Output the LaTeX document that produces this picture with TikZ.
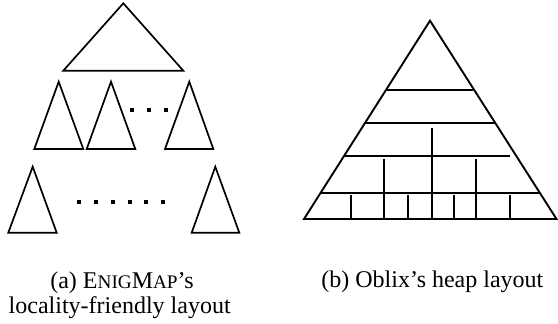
\documentclass[tikz,border=0pt]{standalone}
\usepackage{fontspec}
\setmainfont{Liberation Serif}
\newcommand{\fakesc}[1]{{\fontsize{19.2}{20}\selectfont #1}}
\begin{document}
\begin{tikzpicture}[x=1pt,y=-1pt,
  tri/.style={draw=black,line width=1.7pt,line join=miter},
  bigtri/.style={draw=black,line width=1.9pt,line join=miter},
  rule/.style={draw=black,line width=1.8pt},
  dot/.style={fill=black,minimum size=4.3pt,inner sep=0pt,outer sep=0pt,rectangle},
  captext/.style={font=\fontsize{24}{22}\selectfont,inner sep=0pt,anchor=base}]
\useasboundingbox (0,0) rectangle (558,324);
% (a) blocked layout: a top subtree above two rows of subtrees
\draw[tri] (123.3,3.3) -- (63.3,70.7) -- (183.3,70.7) -- cycle;
\draw[tri] (58.7,81.7) -- (34.3,149) -- (83.3,149) -- cycle;
\draw[tri] (111,81.7) -- (86.7,149) -- (135.3,149) -- cycle;
\draw[tri] (189.3,81.7) -- (165,149) -- (213.3,149) -- cycle;
\draw[tri] (32.7,166.7) -- (8.3,232.7) -- (56.7,232.7) -- cycle;
\draw[tri] (215.3,166.7) -- (191.7,232.7) -- (239.3,232.7) -- cycle;
\foreach \x [count=\i] in {132.3,149,165.7}
  \node[dot] (m\i) at (\x,110) {};
\foreach \x [count=\i] in {79.3,96,113,129.7,146.3,163}
  \node[dot] (b\i) at (\x,202) {};
% (b) heap layout: one triangle cut into levels
\draw[bigtri] (430,20.7) -- (304,219) -- (556.5,219) -- cycle;
\draw[rule] (386,90) -- (472.7,90);
\draw[rule] (365,123.3) -- (494.5,123.3);
\draw[rule] (344,156) -- (510,156);
\draw[rule] (321,192.7) -- (538.5,192.7);
\draw[rule] (432,127.7) -- (432,219);
\draw[rule] (384,159.3) -- (384,219);
\draw[rule] (475.7,159.3) -- (475.7,219);
\foreach \x in {350.7,408,454.3,510}
  \draw[rule] (\x,195) -- (\x,219);
% captions
\node[captext] (capa1) at (122,288.5) {(a) E\fakesc{NIG}M\fakesc{AP}’s};
\node[captext] (capa2) at (119.7,313) {locality-friendly layout};
\node[captext] (capb) at (432.4,287.5) {(b) Oblix’s heap layout};
\end{tikzpicture}
\end{document}
